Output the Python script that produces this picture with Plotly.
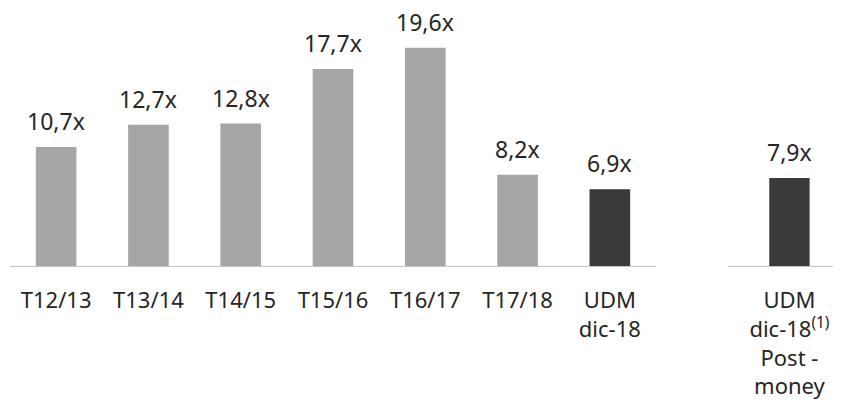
import plotly.graph_objects as go

# === Datos
periods = ["T12/13", "T13/14", "T14/15", "T15/16", "T16/17", "T17/18", "UDM<br>dic-18"]
multiples = [10.7, 12.7, 12.8, 17.7, 19.6, 8.2, 6.9]
period_colors = ["#A6A6A6"] * 6 + ["#3A3A3A"]

post_label = ["UDM<br>dic-18<sup>(1)</sup><br>Post -<br>money"]
post_multiple = [7.9]

def fmt(v):
    return f"{v:.1f}".replace(".", ",") + "x"

fig = go.Figure()

# === Barras históricas
fig.add_trace(go.Bar(
    x=list(range(len(periods))),
    y=multiples,
    width=0.44,
    marker=dict(color=period_colors, line=dict(width=0)),
    xaxis="x", yaxis="y",
    showlegend=False,
    hoverinfo="skip",
))

# === Barra post-money (panel derecho)
fig.add_trace(go.Bar(
    x=[0],
    y=post_multiple,
    width=0.44,
    marker=dict(color="#3A3A3A", line=dict(width=0)),
    xaxis="x2", yaxis="y2",
    showlegend=False,
    hoverinfo="skip",
))

# === Etiquetas de valor
annotations = []
for i, v in enumerate(multiples):
    annotations.append(dict(x=i, y=v, xref="x", yref="y", text=fmt(v),
                            showarrow=False, yanchor="bottom", yshift=8))
for i, v in enumerate(post_multiple):
    annotations.append(dict(x=i, y=v, xref="x2", yref="y2", text=fmt(v),
                            showarrow=False, yanchor="bottom", yshift=8))
for a in annotations:
    a["font"] = dict(family="Noto Sans", size=23, color="#262626")

y_top = 23.9
tickfont = dict(family="Noto Sans", size=22, color="#262626")

fig.update_layout(
    width=847, height=403,
    margin=dict(l=0, r=0, t=0, b=137),
    paper_bgcolor="white",
    plot_bgcolor="white",
    annotations=annotations,
    xaxis=dict(
        domain=[10 / 847, 656 / 847],
        range=[-0.5, 6.5],
        tickmode="array",
        tickvals=list(range(len(periods))),
        ticktext=periods,
        tickfont=tickfont,
        showline=True, linecolor="#C4C4C4", linewidth=1,
        showgrid=False, zeroline=False, ticks="",
        ticklabelstandoff=15,
        automargin=False,
    ),
    xaxis2=dict(
        domain=[728 / 847, 833 / 847],
        range=[-0.67, 0.475],
        tickmode="array",
        tickvals=[0],
        ticktext=post_label,
        tickfont=tickfont,
        showline=True, linecolor="#C4C4C4", linewidth=1,
        showgrid=False, zeroline=False, ticks="",
        ticklabelstandoff=15,
        automargin=False,
        anchor="y2",
    ),
    yaxis=dict(range=[0, y_top], visible=False, showgrid=False, zeroline=False),
    yaxis2=dict(range=[0, y_top], visible=False, showgrid=False, zeroline=False,
                anchor="x2", overlaying="y"),
)

# sin margen del body para que la figura empiece en (0, 0)
fig.write_html("out.html", config={"displayModeBar": False},
               post_script="document.body.style.margin='0';")
